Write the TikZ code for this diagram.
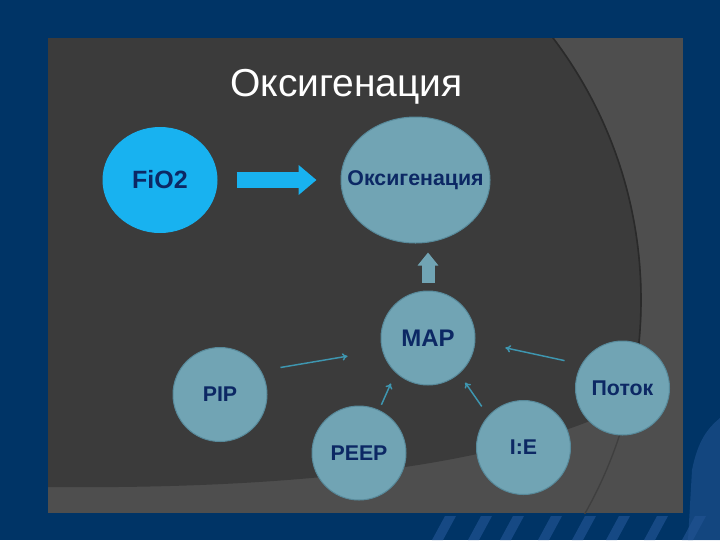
\documentclass[tikz,border=0pt]{standalone}
\usepackage{fontspec}
\setmainfont{Liberation Sans}
\usetikzlibrary{shapes.geometric,arrows.meta}

\definecolor{slidebg}{RGB}{0,52,102}
\definecolor{stripeblue}{RGB}{32,82,145}
\definecolor{panellight}{RGB}{78,78,78}
\definecolor{paneldark}{RGB}{59,59,59}
\definecolor{arcedge}{RGB}{42,42,42}
\definecolor{bubblefill}{RGB}{113,164,180}
\definecolor{bubbleedge}{RGB}{88,138,155}
\definecolor{fioblue}{RGB}{24,178,240}
\definecolor{labelnavy}{RGB}{12,40,100}
\definecolor{feedline}{RGB}{62,150,176}

\tikzset{every picture/.style={line width=0.75pt}}
\tikzset{
  bubble/.style={circle, minimum size=70.5pt, inner sep=0pt, fill=bubblefill, draw=bubbleedge,
    text=labelnavy, font=\bfseries\fontsize{16}{19}\selectfont},
  bigarrow/.style={draw=fioblue, line width=12pt, -{Triangle[width=21.75pt,length=13.5pt]}},
  uparrow/.style={draw=bubblefill, line width=9.75pt, -{Triangle[width=15pt,length=9.75pt]}},
  feed/.style={draw=feedline, line width=1.1pt, -{To[length=4pt,width=5.5pt]}},
}

\begin{document}
\begin{tikzpicture}[x=0.75pt,y=0.75pt,yscale=-1,xscale=1]
%Background
\fill[slidebg] (0,0) rectangle (720,540);
\foreach \sx in {432,468,500,538,572,606,644,682} {
  \fill[stripeblue, opacity=0.7] (\sx,540) -- (\sx+13,516) -- (\sx+24,516) -- (\sx+11,540) -- cycle;
}
\fill[stripeblue, opacity=0.6] (688,540) -- (692,470) .. controls (698,440) and (708,428) .. (720,418) -- (720,540) -- cycle;

%Shape: Panel
\fill[panellight] (48,38) rectangle (683,513);
\begin{scope}
  \clip (48,38) rectangle (683,513);
  \draw[arcedge!40!panellight, line width=1pt] (207,300) circle [radius=325.5pt];
  \begin{scope}
    \clip (207,300) circle [radius=325.5pt];
    \fill[paneldark] (48,38) -- (683,38) -- (683,368) .. controls (580,455) and (350,490) .. (48,487) -- cycle;
  \end{scope}
  \clip (48,38) -- (683,38) -- (683,368) .. controls (580,455) and (350,490) .. (48,487) -- cycle;
  \draw[arcedge, line width=1.2pt] (207,300) circle [radius=325.5pt];
\end{scope}

% Text Node
\node[anchor=base, text=white, font=\fontsize{29.25}{34}\selectfont] (title) at (346.5,96) {Оксигенация};

%Shape: Circles
\node[bubble, ellipse, fill=fioblue, draw=fioblue, minimum width=85.5pt, minimum height=78.75pt,
  font=\bfseries\fontsize{18.75}{22}\selectfont] (fio) at (160,180) {FiO2};
\node[bubble, ellipse, minimum width=111.75pt, minimum height=94.5pt,
  label={[text=labelnavy, font=\bfseries\fontsize{16}{19}\selectfont]center:Оксигенация}] (oxy) at (415.5,180) {};
\node[bubble, font=\bfseries\fontsize{18}{21}\selectfont] (map) at (428,338) {MAP};
\node[bubble] (pip) at (220,394.5) {PIP};
\node[bubble] (peep) at (359,453) {PEEP};
\node[bubble] (ie) at (523.5,447.5) {I:E};
\node[bubble] (potok) at (622.5,388) {Поток};

%Straight Lines
\draw[bigarrow, shorten <=14.25pt, shorten >=18pt] (fio) -- (oxy);
\draw[uparrow, shorten <=6pt, shorten >=6.75pt] (map.north) -- (map.north |- oxy.south);
\draw[feed, shorten <=14.7pt, shorten >=26.3pt] (pip.30) -- (map.195);
\draw[feed, shorten <=12.9pt, shorten >=23pt] (potok.150) -- (map.-4);
\draw[feed, shorten <=4.3pt, shorten >=8.8pt] (peep.65) -- (map.227);
\draw[feed, shorten <=8.5pt, shorten >=7.9pt] (ie.138) -- (map.-49);

\end{tikzpicture}
\end{document}
